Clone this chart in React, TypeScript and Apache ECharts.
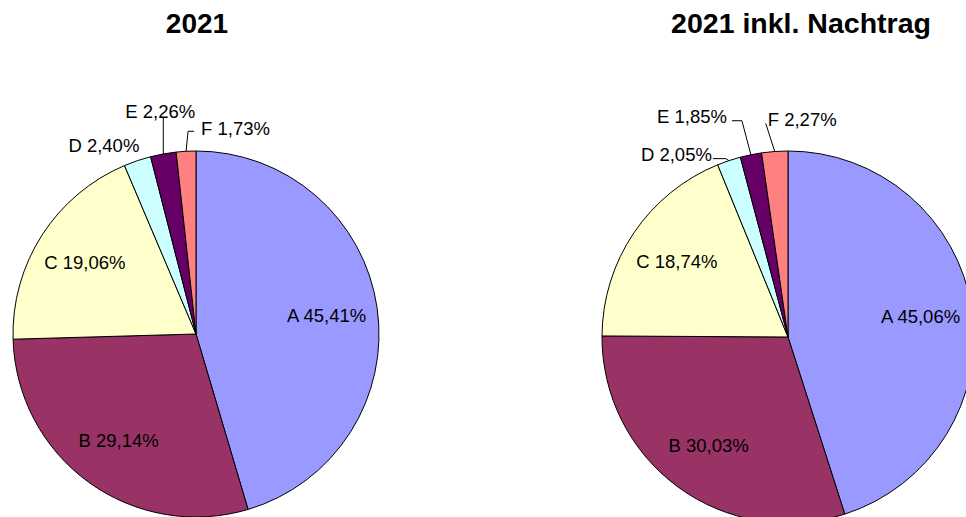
import React, { useEffect, useRef } from "react";
import * as echarts from "echarts";

const categories = ["A", "B", "C", "D", "E", "F"];
const values2021 = [45.41, 29.14, 19.06, 2.4, 2.26, 1.73];
const valuesNachtrag = [45.06, 30.03, 18.74, 2.05, 1.85, 2.27];
const titles = ["2021", "2021 inkl. Nachtrag"];
const colors = ["#9999FF", "#993366", "#FFFFCC", "#CCFFFF", "#660066", "#FF8080"];
const insideLabels = ["A", "B", "C"];

const FONT = "'Liberation Sans', Arial, sans-serif";
const LABEL_SIZE = 18.5;

// label placement relative to the slice edge anchor (styles, not data)
type Off = { line: number[][]; x: number; y: number; align: string };
const OFFSETS: Record<string, Off>[] = [
  {
    D: { line: [[0, 0], [0, 0]], x: 2, y: -15, align: "right" },
    E: { line: [[0, 0], [0, -36]], x: -3, y: -42, align: "center" },
    F: { line: [[0, 0], [2, -20], [8, -20]], x: 15, y: -23, align: "left" },
  },
  {
    D: { line: [[0, 0], [-3, -2], [-16, -2]], x: -17, y: -6, align: "right" },
    E: { line: [[0, 0], [-9, -34], [-19, -34]], x: -24, y: -38, align: "right" },
    F: { line: [[0, 0], [-9, -28]], x: -7, y: -32, align: "left" },
  },
];

const fmt = (p: any) => `${p.name} ${Number(p.value).toFixed(2).replace(".", ",")}%`;

function buildSeries(values: number[], center: number[], radius: number, idx: number) {
  const main = {
    type: "pie",
    center,
    radius,
    startAngle: 90,
    clockwise: true,
    silent: true,
    avoidLabelOverlap: false,
    data: categories.map((c, i) => ({
      name: c,
      value: values[i],
      itemStyle: { color: colors[i] },
      label: { show: !insideLabels.includes(c) },
      labelLine: { show: !insideLabels.includes(c) },
    })),
    itemStyle: { borderColor: "#000", borderWidth: 1 },
    label: {
      position: "outside",
      formatter: fmt,
      color: "#000",
      fontSize: LABEL_SIZE,
      fontFamily: FONT,
    },
    labelLine: { length: 10, length2: 5, lineStyle: { color: "#000", width: 1 } },
    labelLayout: (params: any) => {
      const pts = params.labelLinePoints;
      const name = categories[params.dataIndex];
      const off = OFFSETS[idx][name];
      if (!pts || !off) return {};
      const [x0, y0] = pts[0];
      return {
        x: x0 + off.x,
        y: y0 + off.y,
        align: off.align,
        verticalAlign: "middle",
        labelLinePoints: off.line.map(([dx, dy]) => [x0 + dx, y0 + dy]),
      };
    },
  };
  const overlay = {
    type: "pie",
    center,
    radius: [radius * 0.41, radius],
    startAngle: 90,
    clockwise: true,
    silent: true,
    z: 5,
    data: categories.map((c, i) => ({
      name: c,
      value: values[i],
      label: { show: insideLabels.includes(c) },
    })),
    itemStyle: { color: "rgba(0,0,0,0)", borderWidth: 0 },
    label: {
      position: "inside",
      formatter: fmt,
      color: "#000",
      fontSize: LABEL_SIZE,
      fontFamily: FONT,
    },
    labelLine: { show: false },
  };
  return [main, overlay];
}

export default function App() {
  const ref = useRef<HTMLDivElement>(null);
  useEffect(() => {
    if (!ref.current) return;
    const chart = echarts.init(ref.current, undefined, { renderer: "svg" });
    chart.setOption({
      animation: false,
      backgroundColor: "#fff",
      graphic: [
        {
          type: "text",
          x: 197,
          y: 23,
          style: {
            text: titles[0],
            font: `bold 28px ${FONT}`,
            fill: "#000",
            textAlign: "center",
            textVerticalAlign: "middle",
          },
        },
        {
          type: "text",
          x: 801,
          y: 23,
          style: {
            text: titles[1],
            font: `bold 28.5px ${FONT}`,
            fill: "#000",
            textAlign: "center",
            textVerticalAlign: "middle",
          },
        },
      ],
      series: [
        ...buildSeries(values2021, [196, 334], 183, 0),
        ...buildSeries(valuesNachtrag, [788, 337], 186, 1),
      ],
    });
    return () => chart.dispose();
  }, []);
  return (
    <div
      ref={ref}
      style={{ position: "absolute", left: 0, top: 0, width: 966, height: 517 }}
    />
  );
}
